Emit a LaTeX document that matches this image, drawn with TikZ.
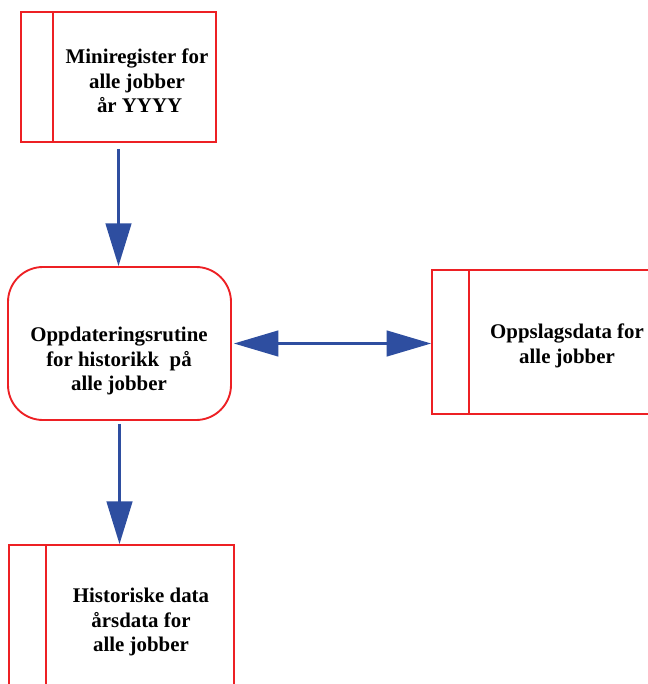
\documentclass[tikz,border=0pt]{standalone}
\usepackage{fontspec}
\setmainfont{Liberation Serif}
\usetikzlibrary{arrows.meta,positioning}
\definecolor{boxred}{RGB}{237,32,36}
\definecolor{flowblue}{RGB}{46,78,160}
\newcommand{\pxu}{0.03cm}

\begin{document}
\begin{tikzpicture}[x=\pxu,y=-\pxu,
    store/.style={draw=boxred, line width=1.6pt, inner sep=0pt,
      path picture={\draw[boxred, line width=1.6pt]
        ([xshift=#1]path picture bounding box.north west) --
        ([xshift=#1]path picture bounding box.south west);}},
    routine/.style={draw=boxred, line width=1.6pt, inner sep=0pt, rounded corners=1.05cm},
    lbl/.style={align=center, inner sep=0pt, font=\bfseries\fontsize{17.8}{21}\selectfont},
    flow/.style={draw=flowblue, line width=1.9pt, -{Triangle[length=36.5pt, width=22pt]}},
    flowboth/.style={flow, {Triangle[length=38pt, width=22pt]}-{Triangle[length=38pt, width=22pt]}}]
    \useasboundingbox (0,0) rectangle (647,684);
    % boxes
    \node[store=32*\pxu, minimum width=195*\pxu, minimum height=130*\pxu] (mini) at (118.5,77) {};
    \node[routine, minimum width=223*\pxu, minimum height=153*\pxu] (rutine) at (119.5,343.5) {};
    \node[store=37*\pxu, minimum width=300*\pxu, minimum height=144*\pxu] (oppslag) at (582,342) {};
    \node[store=37*\pxu, minimum width=225*\pxu, minimum height=200*\pxu] (historikk) at (121.5,645) {};
    % texts
    \node[lbl] (minitxt) at (137,81) {Miniregister for\\alle jobber\\~år YYYY};
    \node[lbl] (rutinetxt) at (119,361) {Oppdateringsrutine\\for historikk~ på\\alle jobber};
    \node[lbl] (oppslagtxt) at (567,346) {Oppslagsdata for\\alle jobber};
    \node[lbl] (historikktxt) at (141,622) {Historiske data\\årsdata for\\alle jobber};
    % connectors
    \draw[flow] ([yshift=-6*\pxu]mini.south) -- (mini.south |- rutine.north);
    \draw[flowboth] ([xshift=2*\pxu]rutine.east) -- (rutine.east -| oppslag.west);
    \draw[flow] ([yshift=-3*\pxu]rutine.south) -- (rutine.south |- historikk.north);
\end{tikzpicture}
\end{document}
